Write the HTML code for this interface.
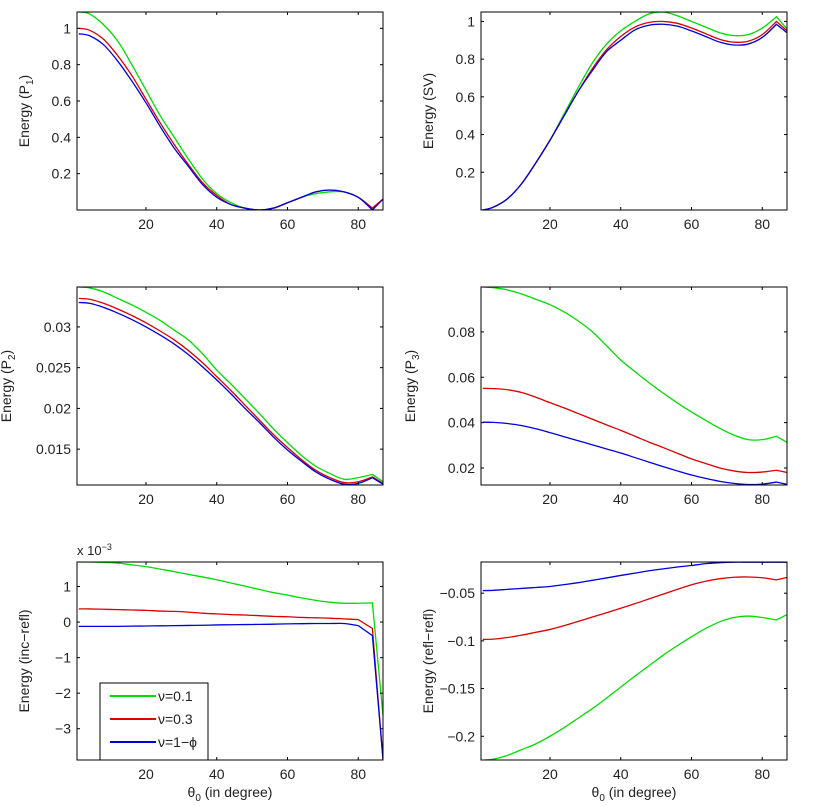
<!DOCTYPE html>
<html><head><meta charset="utf-8"><style>
html,body{margin:0;padding:0;background:#fff;}
svg{display:block;font-family:"Liberation Sans",Arial,sans-serif;}
</style></head><body>
<svg id="fig" width="820" height="806" viewBox="0 0 820 806" xmlns="http://www.w3.org/2000/svg"></svg>
<script>
const angles = [1,4,8,12,16,20,24,28,32,36,40,44,48,52,56,60,64,68,72,76,80,84,87];
const xTicks = [20,40,60,80];

const p1Green = [1.09,1.08,1.02,0.93,0.80,0.66,0.52,0.40,0.28,0.17,0.09,0.04,0.01,0.00,0.01,0.04,0.07,0.09,0.10,0.10,0.07,0.01,0.06];
const p1Red   = [1.00,0.99,0.94,0.85,0.74,0.61,0.48,0.36,0.25,0.15,0.08,0.03,0.01,0.00,0.01,0.04,0.07,0.10,0.11,0.10,0.07,0.01,0.06];
const p1Blue  = [0.97,0.96,0.91,0.82,0.71,0.59,0.46,0.34,0.24,0.14,0.07,0.03,0.01,0.00,0.01,0.04,0.07,0.10,0.11,0.10,0.07,0.00,0.06];
const p1Ticks = [0.2,0.4,0.6,0.8,1];
const p1TickLabels = ["0.2","0.4","0.6","0.8","1"];

const svGreen = [0,0.015,0.06,0.14,0.25,0.37,0.51,0.65,0.78,0.88,0.95,1.0,1.04,1.05,1.03,1.0,0.97,0.94,0.925,0.93,0.965,1.025,0.96];
const svRed   = [0,0.015,0.06,0.14,0.25,0.37,0.50,0.63,0.75,0.85,0.92,0.97,0.995,1.0,0.99,0.965,0.935,0.905,0.89,0.895,0.93,1.0,0.95];
const svBlue  = [0,0.015,0.06,0.14,0.25,0.37,0.50,0.63,0.74,0.84,0.90,0.955,0.98,0.985,0.975,0.95,0.92,0.89,0.875,0.88,0.915,0.985,0.94];
const svTicks = [0.2,0.4,0.6,0.8,1];
const svTickLabels = ["0.2","0.4","0.6","0.8","1"];

const p2Green = [.0349,.0348,.0343,.0335,.0327,.0318,.0308,.0296,.0284,.0267,.0247,.0230,.0212,.0194,.0175,.0158,.0142,.0129,.0120,.0113,.0115,.0119,.0110];
const p2Red   = [.0335,.0334,.0329,.0322,.0314,.0305,.0295,.0284,.0271,.0256,.0239,.0222,.0204,.0186,.0168,.0152,.0137,.0124,.0115,.0109,.0110,.0116,.0108];
const p2Blue  = [.0330,.0329,.0324,.0317,.0309,.0300,.0290,.0279,.0266,.0251,.0235,.0218,.0200,.0183,.0165,.0149,.0135,.0122,.0113,.0107,.0108,.0115,.0107];
const p2Ticks = [0.015,0.02,0.025,0.03];
const p2TickLabels = ["0.015","0.02","0.025","0.03"];

const p3Green = [.0998,.0995,.0985,.0967,.0944,.0920,.0888,.0848,.0800,.0739,.0676,.0625,.0576,.0530,.0487,.0447,.0410,.0375,.0345,.0325,.0325,.0340,.0313];
const p3Red   = [.0551,.0550,.0545,.0533,.0512,.0488,.0465,.0440,.0415,.0390,.0366,.0340,.0314,.0290,.0265,.0240,.0220,.0200,.0187,.0180,.0182,.0190,.0180];
const p3Blue  = [.0402,.0401,.0396,.0387,.0373,.0356,.0338,.0320,.0302,.0284,.0266,.0246,.0226,.0206,.0187,.0169,.0154,.0141,.0132,.0127,.0129,.0138,.0128];
const p3Ticks = [0.02,0.04,0.06,0.08];
const p3TickLabels = ["0.02","0.04","0.06","0.08"];

const incGreen = [1.69,1.69,1.68,1.66,1.61,1.56,1.49,1.42,1.34,1.27,1.19,1.10,1.01,0.92,0.83,0.76,0.68,0.61,0.56,0.53,0.53,0.54,-2.63];
const incRed   = [.37,.37,.36,.35,.34,.33,.31,.30,.28,.25,.23,.21,.20,.18,.16,.15,.13,.12,.11,.09,.07,-.18,-3.88];
const incBlue  = [-.12,-.12,-.12,-.12,-.115,-.11,-.105,-.10,-.095,-.09,-.08,-.075,-.07,-.065,-.06,-.05,-.045,-.04,-.04,-.04,-.10,-.38,-3.85];
const incTicks = [-3,-2,-1,0,1];
const incTickLabels = ["\u22123","\u22122","\u22121","0","1"];

const rrGreen = [-.225,-.224,-.220,-.214,-.208,-.200,-.191,-.181,-.171,-.160,-.1485,-.137,-.126,-.115,-.105,-.0957,-.087,-.080,-.0755,-.074,-.0755,-.078,-.0725];
const rrRed   = [-.0985,-.0982,-.0965,-.094,-.091,-.088,-.084,-.0795,-.075,-.0705,-.0658,-.061,-.056,-.051,-.046,-.0412,-.0375,-.0348,-.0333,-.0330,-.0338,-.036,-.0335];
const rrBlue  = [-.0473,-.047,-.046,-.045,-.044,-.043,-.041,-.039,-.0365,-.034,-.0314,-.029,-.0265,-.0245,-.0225,-.021,-.019,-.018,-.0175,-.0175,-.0175,-.0175,-.0175];
const rrTicks = [-0.2,-0.15,-0.1,-0.05];
const rrTickLabels = ["\u22120.2","\u22120.15","\u22120.1","\u22120.05"];

const NS = "http://www.w3.org/2000/svg";
const fig = document.getElementById("fig");
function mk(tag, attrs, parent){const e=document.createElementNS(NS,tag);for(const k in attrs)e.setAttribute(k,attrs[k]);(parent||fig).appendChild(e);return e;}

function smoothPath(pts, sharp){
  // Catmull-Rom -> cubic Bezier; "sharp" indices are kept as corners
  let d="M"+pts[0][0].toFixed(2)+","+pts[0][1].toFixed(2);
  for(let i=0;i<pts.length-1;i++){
    const p0=pts[Math.max(i-1,0)],p1=pts[i],p2=pts[i+1],p3=pts[Math.min(i+2,pts.length-1)];
    const t=0.16;
    let c1=[p1[0]+(p2[0]-p0[0])*t,p1[1]+(p2[1]-p0[1])*t];
    let c2=[p2[0]-(p3[0]-p1[0])*t,p2[1]-(p3[1]-p1[1])*t];
    if(sharp.indexOf(i)>=0) c1=p1;
    if(sharp.indexOf(i+1)>=0) c2=p2;
    d+=" C"+c1[0].toFixed(2)+","+c1[1].toFixed(2)+" "+c2[0].toFixed(2)+","+c2[1].toFixed(2)+" "+p2[0].toFixed(2)+","+p2[1].toFixed(2);
  }
  return d;
}

const X0=0.5, X1=87;
const FS=14;
function panel(name, left, top, w, h, y0, y1, series, yt, ytl, label, sub, showX, sharp){
  const g = mk("g",{});
  
  
  const xs = v => left + (v - X0)/(X1 - X0)*w;
  const ys = v => top + (y1 - v)/(y1 - y0)*h;
  const clip = mk("clipPath",{id:"c-"+name},g);
  mk("rect",{x:left,y:top,width:w,height:h},clip);
  const colors=["#00dd00","#dd0000","#0000dd"];
  const names=["series-v01","series-v03","series-v1-phi"];
  series.forEach((s,i)=>{
    const pts = s.map((v,j)=>[xs(angles[j]),ys(v)]);
    const p = mk("path",{d:smoothPath(pts,sharp),fill:"none",stroke:colors[i],"stroke-width":1.3,"clip-path":"url(#c-"+name+")"},g);
    
    
  });
  const frame = mk("rect",{x:left,y:top,width:w,height:h,fill:"none",stroke:"#000","stroke-width":1},g);
  
  
  xTicks.forEach(t=>{
    const x=xs(t);
    mk("line",{x1:x,y1:top+h,x2:x,y2:top+h-3,stroke:"#000"},g);
    mk("line",{x1:x,y1:top,x2:x,y2:top+3,stroke:"#000"},g);
    const tx = mk("text",{x:x,y:top+h+19,"text-anchor":"middle","font-size":FS,fill:"#222"},g);
    tx.textContent=String(t);
    
    
  });
  yt.forEach((t,i)=>{
    const y=ys(t);
    mk("line",{x1:left,y1:y,x2:left+3,y2:y,stroke:"#000"},g);
    mk("line",{x1:left+w,y1:y,x2:left+w-3,y2:y,stroke:"#000"},g);
    const tx = mk("text",{x:left-6,y:y+5,"text-anchor":"end","font-size":FS,fill:"#222"},g);
    tx.textContent=ytl[i];
    
    
  });
  const lx = left - (name.indexOf("p2")>=0||name.indexOf("p3")>=0? 66 : 48) ;
  const yl = mk("text",{x:0,y:0,"text-anchor":"middle","font-size":FS,fill:"#222",transform:"translate("+lx+","+(top+h/2)+") rotate(-90)"},g);
  
  
  if(sub){
    const a=mk("tspan",{},yl);a.textContent=label;
    const b=mk("tspan",{"font-size":10,dy:4},yl);b.textContent=sub;
    const c=mk("tspan",{dy:-4},yl);c.textContent=")";
  } else yl.textContent=label;
  if(showX){
    const xl = mk("text",{x:left+w/2,y:top+h+37,"text-anchor":"middle","font-size":FS,fill:"#222"},g);
    
    
    const a=mk("tspan",{},xl);a.textContent="\u03b8";
    const b=mk("tspan",{"font-size":10,dy:4},xl);b.textContent="0";
    const c=mk("tspan",{dy:-4},xl);c.textContent=" (in degree)";
  }
  return g;
}

const LW=306, RW=306, H=198;
panel("panel-p1",77,12,LW,H,0,1.09,[p1Green,p1Red,p1Blue],p1Ticks,p1TickLabels,"Energy (P","1",false,[21]);
panel("panel-sv",481,12,RW,H,0,1.05,[svGreen,svRed,svBlue],svTicks,svTickLabels,"Energy (SV)",null,false,[21]);
panel("panel-p2",77,287,LW,H,0.0106,0.0349,[p2Green,p2Red,p2Blue],p2Ticks,p2TickLabels,"Energy (P","2",false,[21]);
panel("panel-p3",481,287,RW,H,0.0125,0.0998,[p3Green,p3Red,p3Blue],p3Ticks,p3TickLabels,"Energy (P","3",false,[21]);
panel("panel-inc-refl",77,562,LW,H,-3.88,1.69,[incGreen,incRed,incBlue],incTicks,incTickLabels,"Energy (inc\u2212refl)",null,true,[20,21,22]);
panel("panel-refl-refl",481,562,RW,H,-0.2249,-0.0173,[rrGreen,rrRed,rrBlue],rrTicks,rrTickLabels,"Energy (refl\u2212refl)",null,true,[21]);

const ex = mk("text",{x:77,y:555,"font-size":13,fill:"#222"});


const e1=mk("tspan",{},ex);e1.textContent="x 10";
const e2=mk("tspan",{"font-size":9,dy:-5},ex);e2.textContent="\u22123";

const lg = mk("g",{});


mk("rect",{x:100,y:683,width:108,height:77,fill:"#fff",stroke:"#000","stroke-width":1},lg);
const legColors=["#00dd00","#dd0000","#0000dd"];
const legLabels=["\u03bd=0.1","\u03bd=0.3","\u03bd=1\u2212\u03d5"];
const legY=[696,719,742];
legLabels.forEach((t,i)=>{
  const en = mk("g",{},lg);
  
  
  mk("line",{x1:110,y1:legY[i],x2:156,y2:legY[i],stroke:legColors[i],"stroke-width":2},en);
  const tx=mk("text",{x:158,y:legY[i]+5,"font-size":FS,fill:"#222"},en);
  tx.textContent=t;
});
</script>
</body></html>
